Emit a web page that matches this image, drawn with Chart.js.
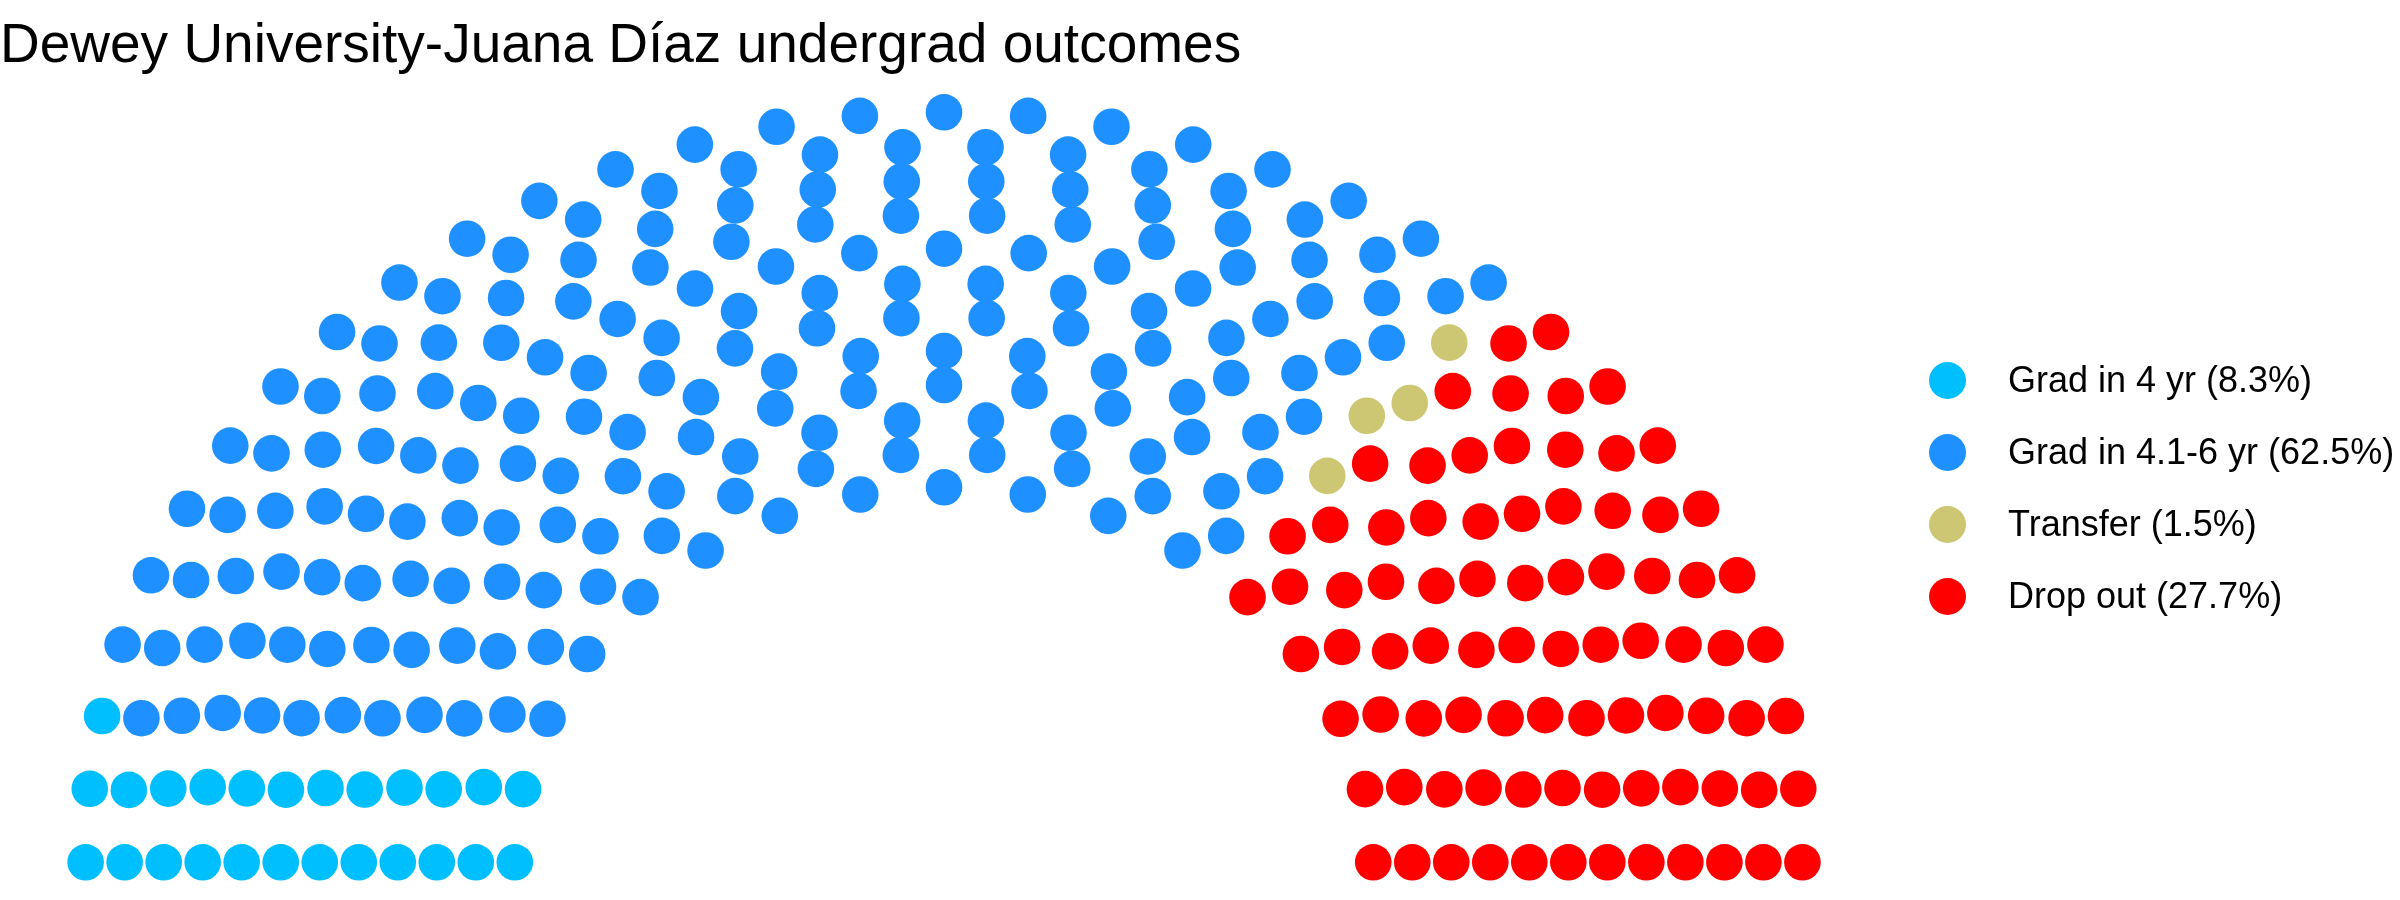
<!DOCTYPE html>
<html>
<head>
<meta charset="utf-8">
<title>Dewey University-Juana Díaz undergrad outcomes</title>
<script src="https://cdn.jsdelivr.net/npm/chart.js@4.4.1/dist/chart.umd.min.js"></script>
<style>
  body { margin: 0; background: #ffffff; font-family: "Liberation Sans", Arial, Helvetica, sans-serif; }
  #wrap { position: relative; width: 2400px; height: 900px; overflow: hidden; }
  #parl { position: absolute; left: 0; top: 0; }
  #title { position: absolute; left: 0; top: 16px; font-size: 55px; line-height: 55px; color: #000; white-space: nowrap; }
  #legend { position: absolute; left: 1929px; top: 344px; }
  .item { height: 72px; line-height: 72px; font-size: 36px; color: #000; white-space: nowrap; display: flex; align-items: center; }
  .dot { width: 37px; height: 37px; border-radius: 50%; margin-right: 42px; flex: none; }
</style>
</head>
<body>
<div id="wrap">
  <canvas id="parl" width="2400" height="900"></canvas>
  <div id="title">Dewey University-Juana Díaz undergrad outcomes</div>
  <div id="legend"></div>
</div>
<script>
// outcome groups, in seat order (left to right round the hemicycle)
const outcomeLabels = ['Grad in 4 yr (8.3%)', 'Grad in 4.1-6 yr (62.5%)', 'Transfer (1.5%)', 'Drop out (27.7%)'];
const outcomeSeats = [25, 187, 4, 83];
const outcomeColors = ['#00BFFF', '#1E90FF', '#CDC673', '#FF0000'];
const parlRows = 12;

// R style round (halves go to the even number)
function roundHalfEven(v) {
    const f = Math.floor(v);
    if (Math.abs(v - f - 0.5) < 1e-9) return f % 2 === 0 ? f : f + 1;
    return Math.round(v);
}

// semicircle layout: rows with radius 1..2, filled from the inner row outwards
function semicircleSeats(total, rows) {
    const rad = [];
    for (let i = 0; i < rows; i++) rad.push(1 + i / (rows - 1));
    let left = total;
    const seats = [];
    for (let i = 0; i < rows; i++) {
        const restRad = rad.slice(i).reduce((a, b) => a + b, 0);
        const n = roundHalfEven(left * rad[i] / restRad);
        left -= n;
        for (let k = 0; k < n; k++) {
            const theta = k * Math.PI / (n - 1);
            seats.push({ x: rad[i] * Math.cos(theta), y: rad[i] * Math.sin(theta), theta: theta, row: i });
        }
    }
    // from the left end (theta = pi) round to the right, outer row first on ties
    seats.sort((a, b) => Math.abs(a.theta - b.theta) > 1e-9 ? b.theta - a.theta : b.row - a.row);
    return seats;
}

const total = outcomeSeats.reduce((a, b) => a + b, 0);
const seats = semicircleSeats(total, parlRows);

const datasets = [];
let pos = 0;
outcomeLabels.forEach((label, i) => {
    const pts = seats.slice(pos, pos + outcomeSeats[i]).map(s => ({ x: s.x, y: s.y }));
    pos += outcomeSeats[i];
    datasets.push({
        label: label,
        data: pts,
        backgroundColor: outcomeColors[i],
        borderWidth: 0,
        pointRadius: 18.3,
        pointHoverRadius: 18.3
    });
});

new Chart(document.getElementById('parl').getContext('2d'), {
    type: 'scatter',
    data: { datasets: datasets },
    options: {
        responsive: false,
        animation: false,
        devicePixelRatio: 1,
        layout: { padding: 0, autoPadding: false },
        plugins: {
            legend: { display: false },
            title: { display: false }
        },
        scales: {
            x: { type: 'linear', min: -2.1995, max: 3.3923, display: false },
            y: { type: 'linear', min: -0.1005, max: 2.2995, display: false }
        }
    }
});

// legend on the right
const legend = document.getElementById('legend');
outcomeLabels.forEach((label, i) => {
    const item = document.createElement('div');
    item.className = 'item';
    item.innerHTML = `<span class="dot" style="background:${outcomeColors[i]}"></span><span>${label}</span>`;
    legend.appendChild(item);
});
</script>
</body>
</html>
